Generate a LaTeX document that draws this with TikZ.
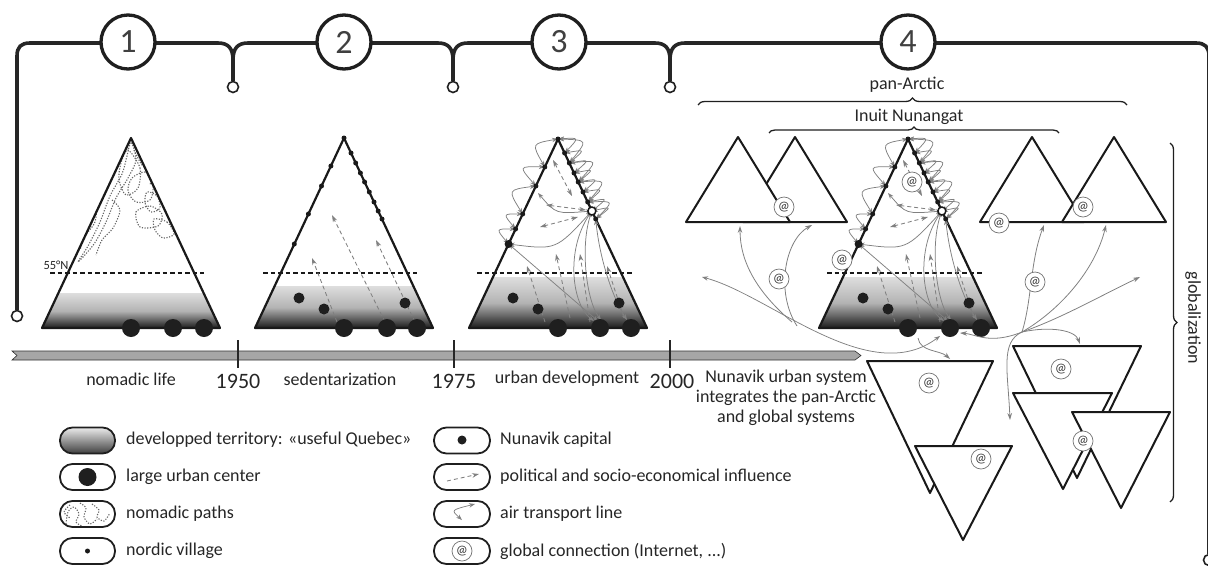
\documentclass[tikz,border=0pt]{standalone}
\usepackage{fontspec}
\setmainfont{Carlito}
\usetikzlibrary{arrows.meta,decorations.pathreplacing}
\newcommand\devtri[1]{%
  \fill[white] (558,139) -- (647,328) -- (469,328) -- cycle;
  \begin{scope}
    \clip (558,139) -- (647,328) -- (469,328) -- cycle;
    \shade[shd] (460,277) rectangle (656,329);
  \end{scope}
  \draw[n55] (477,273) -- (632,273);
  \coordinate (#1T) at (558,139);
  \coordinate (#1L1) at (544.8,167);
  \coordinate (#1L2) at (535.9,186);
  \coordinate (#1L3) at (522.7,214);
  \coordinate (#1L4) at (515.6,229);
  \coordinate (#1L5) at (508.6,244);
  \coordinate (#1R1) at (564.6,153);
  \coordinate (#1R2) at (569.3,163);
  \coordinate (#1R3) at (574,173);
  \coordinate (#1R4) at (578.2,182);
  \coordinate (#1R5) at (583,192);
  \coordinate (#1R6) at (587.7,202);
  \coordinate (#1C) at (591.9,211);
  \coordinate (#1R7) at (595.7,219);
  \draw[tri] (558,139) -- (647,328) -- (469,328) -- cycle;
  % air transport arcs, left side
  \draw[air] (#1T) .. controls (531.5,143.6) .. (#1L1);
  \draw[air] (#1L1) .. controls (518.6,166.3) .. (#1L2);
  \draw[air] (#1L2) .. controls (507.6,189.8) .. (#1L3);
  \draw[air] (#1L3) .. controls (502.9,213.8) .. (#1L4);
  \draw[air] (#1L4) .. controls (495.8,228.8) .. (#1L5);
  % right side
  \draw[air] (#1T) .. controls (579.4,137.5) .. (#1R1);
  \draw[air] (#1R1) .. controls (585.1,149.5) .. (#1R2);
  \draw[air] (#1R2) .. controls (589.8,159.5) .. (#1R3);
  \draw[air] (#1R3) .. controls (594.2,169) .. (#1R4);
  \draw[air] (#1R4) .. controls (598.7,178.5) .. (#1R5);
  \draw[air] (#1R5) .. controls (603.5,188.5) .. (#1R6);
  \draw[air] (#1R6) .. controls (607.9,198) .. (#1C);
  \draw[air] (#1C) .. controls (611.9,206.5) .. (#1R7);
  \draw[air] (#1T) .. controls (588,140) .. (#1R2);
  \draw[air] (#1R2) .. controls (598,160) .. (#1R4);
  \draw[air] (#1R4) .. controls (607,180) .. (#1R6);
  \draw[air] (#1R6) .. controls (614,201) .. (#1R7);
  % inside
  \draw[inflb] (553,160) -- (572,196);
  \draw[air] (538,193) .. controls (556,214) .. (#1C);
  \draw[inflb] (546,205) -- (586,210);
  \draw[inflb] (540,227) -- (578,217);
  \draw[air] (#1L5) .. controls (556,250) .. (#1C);
  \draw[air] (#1L5) -- (598,321);
  \draw[infl] (545,322) -- (527,266);
  \draw[infl] (570,318) -- (556,254);
  \draw[infl] (590,322) -- (580,254);
  \draw[infl] (624,318) -- (607,266);
  \draw[air] (#1C) .. controls (565,250) and (572,305) .. (594,321);
  \draw[air] (#1C) .. controls (580,245) and (586,300) .. (601,320);
  \draw[air] (#1R7) .. controls (600,262) and (614,300) .. (627,320);
  % villages
  \node[vdot] (#1dT) at (#1T) {};
  \node[vdot] (#1d1) at (#1L1) {};
  \node[vdot] (#1d2) at (#1L2) {};
  \node[vdot] (#1d3) at (#1L3) {};
  \node[vdot] (#1d4) at (#1L4) {};
  \node[ldot] (#1d5) at (#1L5) {};
  \node[vdot] (#1e1) at (#1R1) {};
  \node[vdot] (#1e2) at (#1R2) {};
  \node[vdot] (#1e3) at (#1R3) {};
  \node[vdot] (#1e4) at (#1R4) {};
  \node[vdot] (#1e5) at (#1R5) {};
  \node[vdot] (#1e6) at (#1R6) {};
  \node[vdot] (#1e7) at (#1R7) {};
  \node[capdot] (#1cap) at (#1C) {};
  \node[meddot] (#1m1) at (513,298) {};
  \node[meddot] (#1m2) at (538,309) {};
  \node[meddot] (#1m3) at (619,303) {};
  \node[bigdot] (#1b1) at (558,328) {};
  \node[bigdot] (#1b2) at (600,328) {};
  \node[bigdot] (#1b3) at (631,328) {};
}
\begin{document}
\begin{tikzpicture}[x=1pt,y=-1pt,
  tri/.style={draw=black!90,line width=2.2pt,line join=round},
  topline/.style={draw=black!85,line width=3.6pt},
  n55/.style={draw=black!90,line width=1.3pt,dash pattern=on 4.5pt off 3pt},
  air/.style={draw=black!50,line width=0.75pt,{Stealth[length=6pt,width=4.4pt]}-{Stealth[length=6pt,width=4.4pt]}},
  airto/.style={draw=black!50,line width=0.8pt,-{Stealth[length=7pt,width=4.6pt]}},
  infl/.style={draw=black!50,line width=0.85pt,dash pattern=on 4pt off 3pt,-{Stealth[length=7pt,width=4.6pt]}},
  inflb/.style={draw=black!50,line width=0.85pt,dash pattern=on 4pt off 3pt,{Stealth[length=7pt,width=4.6pt]}-{Stealth[length=7pt,width=4.6pt]}},
  nomad/.style={draw=black!60,line width=1.1pt,dash pattern=on 1.2pt off 1.5pt},
  bigdot/.style={circle,fill=black!88,inner sep=0pt,minimum size=18pt},
  meddot/.style={circle,fill=black!88,inner sep=0pt,minimum size=11pt},
  vdot/.style={circle,fill=black!90,inner sep=0pt,minimum size=5pt},
  ldot/.style={circle,fill=black!90,inner sep=0pt,minimum size=8pt},
  capdot/.style={circle,draw=black!90,fill=white,line width=1.5pt,inner sep=0pt,minimum size=8pt},
  atn/.style={circle,draw=black!55,line width=0.7pt,fill=white,inner sep=0pt,minimum size=20pt,font=\fontsize{13}{13}\selectfont,text=black!80},
  numc/.style={circle,draw=black!88,line width=3.3pt,fill=white,inner sep=0pt,minimum size=54pt,font=\fontsize{34}{34}\selectfont,text=black!75},
  smallc/.style={circle,draw=black!88,line width=1.6pt,fill=white,inner sep=0pt,minimum size=11pt},
  lab/.style={font=\fontsize{18}{20}\selectfont,text=black!85,inner sep=0pt},
  yr/.style={font=\fontsize{22}{22}\selectfont,text=black!85,inner sep=0pt},
  pill/.style={draw=black!88,line width=1.8pt,rounded corners=12.5pt},
  brc/.style={draw=black!88,line width=1.3pt,decorate},
  shd/.style={top color=black!13,bottom color=black!92,middle color=black!30},
  smalltri/.style={draw=black!90,line width=2pt,line join=round,fill=white}
]
\useasboundingbox (0,0) rectangle (1208,566);

% ---------- top bracket ----------
\draw[topline] (17,310) -- (17,56) .. controls (17,47) and (21,43) .. (30,43) -- (218,43) .. controls (228,43) and (233,48) .. (233,60) -- (233,81);
\draw[topline] (233,60) .. controls (233,48) and (238,43) .. (248,43) -- (438,43) .. controls (448,43) and (453,48) .. (453,60) -- (453,81);
\draw[topline] (453,60) .. controls (453,48) and (458,43) .. (468,43) -- (655,43) .. controls (665,43) and (670,48) .. (670,60) -- (670,81);
\draw[topline] (670,60) .. controls (670,48) and (675,43) .. (685,43) -- (1196,43) .. controls (1205,43) and (1209,47) .. (1209,56) -- (1209,554);
\node[smallc] (s0) at (17,316) {};
\node[smallc] (s1) at (233,87) {};
\node[smallc] (s2) at (453,87) {};
\node[smallc] (s3) at (670,87) {};
\node[smallc] (s4) at (1209,560) {};
\node[numc] (n1) at (128,42) {1};
\node[numc] (n2) at (344,42) {2};
\node[numc] (n3) at (559,42) {3};
\node[numc] (n4) at (908,42) {4};

\node[lab] (pan) at (907,85) {pan-Arctic};
\draw[brc,decoration={brace,amplitude=7pt}] (698,105) -- (1127,105);
\node[lab] (inu) at (909,117) {Inuit Nunangat};
\draw[brc,decoration={brace,amplitude=6pt}] (769,133) -- (1059,133);
\draw[brc,decoration={brace,amplitude=7pt}] (1170,143) -- (1170,502);
\node[lab,rotate=-90] (glob) at (1193,318) {globalization};

% ---------- triangle 1 ----------
\fill[white] (131,138) -- (220,328) -- (42,328) -- cycle;
\begin{scope}
  \clip (131,138) -- (220,328) -- (42,328) -- cycle;
  \shade[shd] (40,293) rectangle (222,329);
  \draw[nomad] plot[smooth cycle] coordinates {(131,142) (136,160) (128,178) (116,198) (106,222) (94,244) (78,262) (88,246) (100,222) (110,196) (122,174) (127,156)};
  \draw[nomad] plot[smooth cycle] coordinates {(128,150) (140,168) (138,188) (126,195) (119,180) (121,163)};
  \draw[nomad] plot[smooth cycle] coordinates {(132,178) (146,172) (153,186) (150,200) (136,202) (128,191)};
  \draw[nomad] plot[smooth cycle] coordinates {(136,212) (150,206) (162,214) (158,226) (140,227)};
  \draw[nomad] plot[smooth cycle] coordinates {(147,192) (157,196) (160,208) (151,212) (145,203)};
  \draw[nomad] plot[smooth cycle] coordinates {(154,219) (167,222) (174,234) (163,238) (155,230)};
  \draw[nomad] plot[smooth] coordinates {(112,200) (120,210) (113,228) (102,240) (96,255)};
  \draw[nomad] plot[smooth] coordinates {(108,188) (98,200) (95,222) (85,236) (80,250)};
  \draw[nomad] plot[smooth] coordinates {(134,150) (142,165) (152,172) (150,185)};
\end{scope}
\draw[n55] (50,273) -- (204,273);
\node[font=\fontsize{12.5}{12.5}\selectfont,text=black!85,inner sep=0pt] (n55l) at (56,265) {55°N};
\draw[tri] (131,138) -- (220,328) -- (42,328) -- cycle;
\node[bigdot] (a1) at (131,328) {};
\node[bigdot] (a2) at (173,328) {};
\node[bigdot] (a3) at (204,328) {};

% ---------- triangle 2 ----------
\fill[white] (344,138) -- (433,328) -- (255,328) -- cycle;
\begin{scope}
  \clip (344,138) -- (433,328) -- (255,328) -- cycle;
  \shade[shd] (250,286) rectangle (440,329);
\end{scope}
\draw[n55] (263,273) -- (417,273);
\draw[tri] (344,138) -- (433,328) -- (255,328) -- cycle;
\draw[infl] (337,322) -- (312,258);
\draw[infl] (385,322) -- (332,215);
\draw[infl] (415,322) -- (376,240);
\node[vdot] (v0) at (344,138) {};
\node[vdot] (v1) at (330.9,166) {};
\node[vdot] (v2) at (321.5,186) {};
\node[vdot] (v3) at (308.4,214) {};
\node[vdot] (v4) at (294.3,244) {};
\node[vdot] (w1) at (351,153) {};
\node[vdot] (w2) at (355.7,163) {};
\node[vdot] (w3) at (360.4,173) {};
\node[vdot] (w4) at (364.6,182) {};
\node[vdot] (w5) at (369.3,192) {};
\node[vdot] (w6) at (374,202) {};
\node[vdot] (w7) at (378.2,211) {};
\node[vdot] (w8) at (382,219) {};
\node[meddot] (c1) at (299,298) {};
\node[meddot] (c2) at (324,309) {};
\node[meddot] (c3) at (405,303) {};
\node[bigdot] (e1) at (344,328) {};
\node[bigdot] (e2) at (387,328) {};
\node[bigdot] (e3) at (417,328) {};

% ---------- triangle 3 ----------
\devtri{p}

% ---------- stage 4: small triangles ----------
\draw[smalltri] (795,137) -- (847,222) -- (743,222) -- cycle;
\draw[smalltri] (738,137) -- (790,222) -- (686,222) -- cycle;
\draw[smalltri] (1032,137) -- (1084,222) -- (980,222) -- cycle;
\draw[smalltri] (1114,137) -- (1166,222) -- (1062,222) -- cycle;
\draw[smalltri] (867,361) -- (993,361) -- (930,493) -- cycle;
\draw[smalltri] (915,446) -- (1012,446) -- (963,540) -- cycle;
\draw[smalltri] (1013,346) -- (1141,346) -- (1077,478) -- cycle;
\draw[smalltri] (1013,393) -- (1112,393) -- (1063,489) -- cycle;
\draw[smalltri] (1072,412) -- (1170,412) -- (1121,508) -- cycle;

% central triangle
\begin{scope}[xshift=350pt]
  \devtri{q}
\end{scope}

% hub connections
\coordinate (hl) at (792,322);
\coordinate (hr) at (1022,332);
\draw[air] (702,277) .. controls (770,295) and (869,389) .. (940,336);
\draw[airto] (hl) .. controls (757,292) and (740,262) .. (740,226);
\draw[airto] (797,326) .. controls (775,292) and (785,240) .. (812,225);
\draw[airto] (hr) .. controls (990,345) and (975,334) .. (960,333);
\draw[airto] (hr) .. controls (1032,300) and (1030,262) .. (1044,225);
\draw[airto] (hr) .. controls (1060,310) and (1095,270) .. (1106,225);
\draw[airto] (hr) .. controls (1062,318) and (1100,296) .. (1140,277);
\draw[airto] (hr) .. controls (1050,326) and (1075,330) .. (1080,344);
\draw[airto] (hr) .. controls (1000,342) and (1008,372) .. (1010,420);
\draw[airto] (918,338) .. controls (920,352) and (940,350) .. (950,359);

% @ nodes
\node[atn] (at1) at (784,207) {@};
\node[atn] (at2) at (1083,207) {@};
\node[atn] (at3) at (999,223) {@};
\node[atn] (at4) at (929,383) {@};
\node[atn] (at5) at (981,459) {@};
\node[atn] (at6) at (1061,369) {@};
\node[atn] (at7) at (1083,441) {@};
\node[atn] (at8) at (912,182) {@};
\node[atn] (at9) at (842,260) {@};
\node[atn] (at10) at (779,279) {@};
\node[atn] (at11) at (1035,282) {@};

% ---------- timeline ----------
\draw[fill=black!35,draw=black!80,line width=0.6pt] (12,351) -- (855,351) -- (861,355.5) -- (855,360) -- (12,360) -- (17,355.5) -- cycle;
\draw[line width=1.4pt,black!85] (238,340) -- (238,368);
\draw[line width=1.4pt,black!85] (454,340) -- (454,368);
\draw[line width=1.4pt,black!85] (670,340) -- (670,368);
\node[lab] (tl1) at (131,379) {nomadic life};
\node[yr] (y1) at (238,381) {1950};
\node[lab] (tl2) at (340,379) {sedentarization};
\node[yr] (y2) at (454,381) {1975};
\node[lab] (tl3) at (567,379) {urban development};
\node[yr] (y3) at (672,381) {2000};
\node[lab,align=center] (tl4) at (786,398) {Nunavik urban system\\integrates the pan-Arctic\\and global systems};

% ---------- legend ----------
\shadedraw[pill,top color=black!8,bottom color=black!75] (60,427.5) rectangle (115,453.5);
\draw[pill] (60,464) rectangle (115,490);
\node[bigdot] (lg2) at (87.5,477) {};
\draw[pill] (60,501) rectangle (115,527);
\begin{scope}
  \clip[rounded corners=12.5pt] (60,501) rectangle (115,527);
  \draw[nomad] plot[smooth] coordinates {(66,524) (68,512) (74,507) (79,514) (76,522) (82,526)};
  \draw[nomad] plot[smooth] coordinates {(80,503) (86,508) (84,517) (90,524) (97,519)};
  \draw[nomad] plot[smooth] coordinates {(92,504) (99,510) (97,517) (104,521) (110,513)};
  \draw[nomad] plot[smooth] coordinates {(70,505) (64,512) (70,518)};
\end{scope}
\draw[pill] (60,538) rectangle (115,564);
\node[vdot] (lg4) at (87.5,551) {};
\node[lab,anchor=west] (t1) at (126,440) {developped territory: «useful Quebec»};
\node[lab,anchor=west] (t2) at (126,477) {large urban center};
\node[lab,anchor=west] (t3) at (126,514) {nomadic paths};
\node[lab,anchor=west] (t4) at (126,551) {nordic village};

\draw[pill] (434,427.5) rectangle (490,453.5);
\node[circle,fill=black!88,inner sep=0pt,minimum size=9pt] (lg5) at (462,440) {};
\draw[pill] (434,464) rectangle (490,490);
\draw[infl] (447,481) -- (479,474);
\draw[pill] (434,501) rectangle (490,527);
\draw[air] (462,520) .. controls (451,510) .. (475,504);
\draw[pill] (434,538) rectangle (490,564);
\node[atn] (lg8) at (462,551) {@};
\node[lab,anchor=west] (t5) at (500,440) {Nunavik capital};
\node[lab,anchor=west] (t6) at (500,477) {political and socio-economical influence};
\node[lab,anchor=west] (t7) at (500,514) {air transport line};
\node[lab,anchor=west] (t8) at (500,551) {global connection (Internet, ...)};
\end{tikzpicture}
\end{document}
